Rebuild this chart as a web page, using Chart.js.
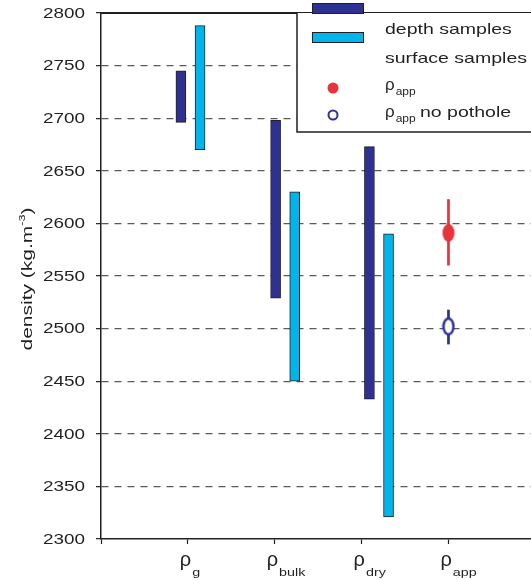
<!DOCTYPE html>
<html lang="en">
  <head>
    <meta charset="UTF-8">
    <title>Density comparison</title>
    <script src="https://cdn.jsdelivr.net/npm/chart.js"></script>
    <style>
      body { margin: 0; background: #fff; }
    </style>
  </head>
  <body>
    <canvas id="myChart" width="531" height="580"></canvas>
    <script>
        // values (kg/m3)
        const categorySubs = ['g', 'bulk', 'dry', 'app'];
        const categoryX = [1, 2, 3, 4];
        const yTicks = [2300, 2350, 2400, 2450, 2500, 2550, 2600, 2650, 2700, 2750, 2800];

        const depthX = [0.92, 2.01, 3.09];
        const depthLow = [2696, 2529, 2433];
        const depthHigh = [2745, 2698, 2673];

        const surfaceX = [1.14, 2.23, 3.31];
        const surfaceLow = [2670, 2450, 2321];
        const surfaceHigh = [2788, 2630, 2590];

        const appX = 4;
        const appValue = 2591;
        const appRange = [2560, 2623];
        const noPotholeValue = 2502;
        const noPotholeRange = [2485, 2518];

        const navy = '#2e3192';
        const cyan = '#00b4ec';
        const red = '#e8333c';
        const ink = '#231f20';
        const FONT = '"Liberation Sans", Arial, sans-serif';

        function ellipseMarker(w, h, fill, stroke, lw) {
          const c = document.createElement('canvas');
          c.width = w + 4;
          c.height = h + 4;
          const g = c.getContext('2d');
          g.beginPath();
          g.ellipse(c.width / 2, c.height / 2, w / 2, h / 2, 0, 0, Math.PI * 2);
          g.fillStyle = fill;
          g.fill();
          if (stroke) {
            g.lineWidth = lw;
            g.strokeStyle = stroke;
            g.stroke();
          }
          return c;
        }

        function wideText(ctx, text, x, y, sx, align) {
          ctx.save();
          ctx.translate(x, y);
          ctx.scale(sx, 1);
          ctx.textAlign = align || 'left';
          ctx.fillText(text, 0, 0);
          ctx.restore();
          return ctx.measureText(text).width * sx;
        }

        const decorations = {
          id: 'decorations',
          afterDraw(chart) {
            const ctx = chart.ctx;
            const area = chart.chartArea;
            const xs = chart.scales.x;
            const ys = chart.scales.y;
            ctx.save();

            // top frame line
            ctx.strokeStyle = ink;
            ctx.lineWidth = 2;
            ctx.beginPath();
            ctx.moveTo(area.left - 1, area.top);
            ctx.lineTo(area.right + 5, area.top);
            ctx.stroke();

            // y tick labels
            ctx.fillStyle = ink;
            ctx.textBaseline = 'middle';
            yTicks.forEach(v => {
              const y = ys.getPixelForValue(v);
              ctx.font = '14px ' + FONT;
              const w = ctx.measureText(String(v)).width * 1.35;
              wideText(ctx, String(v), 85 - w, y + 1, 1.35, 'left');
            });

            // y axis title
            ctx.textBaseline = 'alphabetic';
            ctx.save();
            ctx.translate(32, 279);
            ctx.rotate(-Math.PI / 2);
            ctx.scale(1.4, 1);
            ctx.font = '15px ' + FONT;
            const t1 = 'density (kg.m';
            const w1 = ctx.measureText(t1).width;
            ctx.font = '9px ' + FONT;
            const w2 = ctx.measureText('-3').width;
            ctx.font = '15px ' + FONT;
            const w3 = ctx.measureText(')').width;
            let px = -(w1 + w2 + w3) / 2;
            ctx.fillText(t1, px, 0);
            px += w1;
            ctx.font = '9px ' + FONT;
            ctx.fillText('-3', px, -7);
            px += w2;
            ctx.font = '15px ' + FONT;
            ctx.fillText(')', px, 0);
            ctx.restore();

            // x labels: rho with subscripts
            categoryX.forEach((v, i) => {
              const x = xs.getPixelForValue(v) - 8;
              ctx.font = '20px ' + FONT;
              ctx.textAlign = 'left';
              ctx.fillText('\u03c1', x, 566);
              const rw = ctx.measureText('\u03c1').width;
              ctx.font = '11px ' + FONT;
              wideText(ctx, categorySubs[i], x + rw + 1, 576, 1.3, 'left');
            });

            // legend box
            ctx.fillStyle = '#fff';
            ctx.fillRect(297, area.top, 240, 119);
            ctx.strokeStyle = ink;
            ctx.lineWidth = 1.5;
            ctx.beginPath();
            ctx.moveTo(297, area.top);
            ctx.lineTo(297, area.top + 119);
            ctx.lineTo(540, area.top + 119);
            ctx.stroke();

            ctx.lineWidth = 1;
            ctx.fillStyle = navy;
            ctx.fillRect(312, 3, 52, 10);
            ctx.strokeRect(312.5, 3.5, 51, 10);
            ctx.fillStyle = cyan;
            ctx.fillRect(312, 32, 52, 10);
            ctx.strokeRect(312.5, 32.5, 51, 10);

            ctx.fillStyle = red;
            ctx.beginPath();
            ctx.arc(333, 88, 5.5, 0, Math.PI * 2);
            ctx.fill();
            ctx.strokeStyle = navy;
            ctx.lineWidth = 2;
            ctx.beginPath();
            ctx.arc(333, 115, 4.5, 0, Math.PI * 2);
            ctx.stroke();

            ctx.fillStyle = ink;
            ctx.font = '15px ' + FONT;
            wideText(ctx, 'depth samples', 385, 34, 1.3);
            wideText(ctx, 'surface samples', 385, 63, 1.3);
            ctx.font = '17px ' + FONT;
            const rw = ctx.measureText('\u03c1').width;
            ctx.fillText('\u03c1', 385, 90);
            ctx.fillText('\u03c1', 385, 117);
            ctx.font = '10px ' + FONT;
            wideText(ctx, 'app', 385 + rw + 1, 95, 1.2);
            wideText(ctx, 'app', 385 + rw + 1, 122, 1.2);
            ctx.font = '15px ' + FONT;
            wideText(ctx, 'no pothole', 420, 117, 1.3);

            ctx.restore();
          }
        };

        const ctx = document.getElementById('myChart');

        new Chart(ctx, {
          type: 'bar',
          data: {
            datasets: [
              {
                type: 'scatter',
                label: 'rho app',
                data: [{ x: appX, y: appValue }],
                pointStyle: ellipseMarker(12, 18, red),
                pointRadius: 9
              },
              {
                type: 'scatter',
                label: 'rho app no pothole',
                data: [{ x: appX, y: noPotholeValue }],
                pointStyle: ellipseMarker(10, 16, '#fff', navy, 2.5),
                pointRadius: 9
              },
              {
                type: 'line',
                label: 'app range',
                data: appRange.map(v => ({ x: appX, y: v })),
                borderColor: red,
                borderWidth: 2.7,
                pointRadius: 0
              },
              {
                type: 'line',
                label: 'no pothole range',
                data: noPotholeRange.map(v => ({ x: appX, y: v })),
                borderColor: navy,
                borderWidth: 2.7,
                pointRadius: 0
              },
              {
                label: 'depth samples',
                data: depthX.map((x, i) => ({ x: x, y: [depthLow[i], depthHigh[i]] })),
                backgroundColor: navy,
                borderColor: ink,
                borderWidth: 1,
                borderSkipped: false,
                barThickness: 10,
                grouped: false
              },
              {
                label: 'surface samples',
                data: surfaceX.map((x, i) => ({ x: x, y: [surfaceLow[i], surfaceHigh[i]] })),
                backgroundColor: cyan,
                borderColor: ink,
                borderWidth: 1,
                borderSkipped: false,
                barThickness: 10,
                grouped: false
              }
            ]
          },
          options: {
            responsive: false,
            animation: false,
            devicePixelRatio: 1,
            layout: { autoPadding: false, padding: { top: 13, left: 96, right: 0, bottom: 36 } },
            plugins: {
              legend: { display: false },
              tooltip: { enabled: false }
            },
            scales: {
              x: {
                type: 'linear',
                offset: false,
                min: 0,
                max: 4.95,
                afterBuildTicks: s => { s.ticks = s.ticks.filter(t => Number.isInteger(t.value)); },
                ticks: { display: false, stepSize: 1 },
                grid: { offset: false, drawOnChartArea: false, drawTicks: true, tickLength: 5, tickColor: ink, tickWidth: 1.2 },
                border: { display: true, color: ink, width: 1.5 }
              },
              y: {
                min: 2300,
                max: 2800,
                ticks: { display: false, stepSize: 50 },
                grid: {
                  color: c => (c.tick && (c.tick.value === 2300 || c.tick.value === 2800)) ? 'rgba(0,0,0,0)' : '#5a5a5c',
                  lineWidth: 1.3,
                  drawTicks: true,
                  tickLength: 5,
                  tickColor: ink,
                  tickWidth: 1.2
                },
                border: { display: true, color: ink, width: 1.5, dash: [7, 6] }
              }
            }
          },
          plugins: [decorations]
        });
    </script>
  </body>
</html>
